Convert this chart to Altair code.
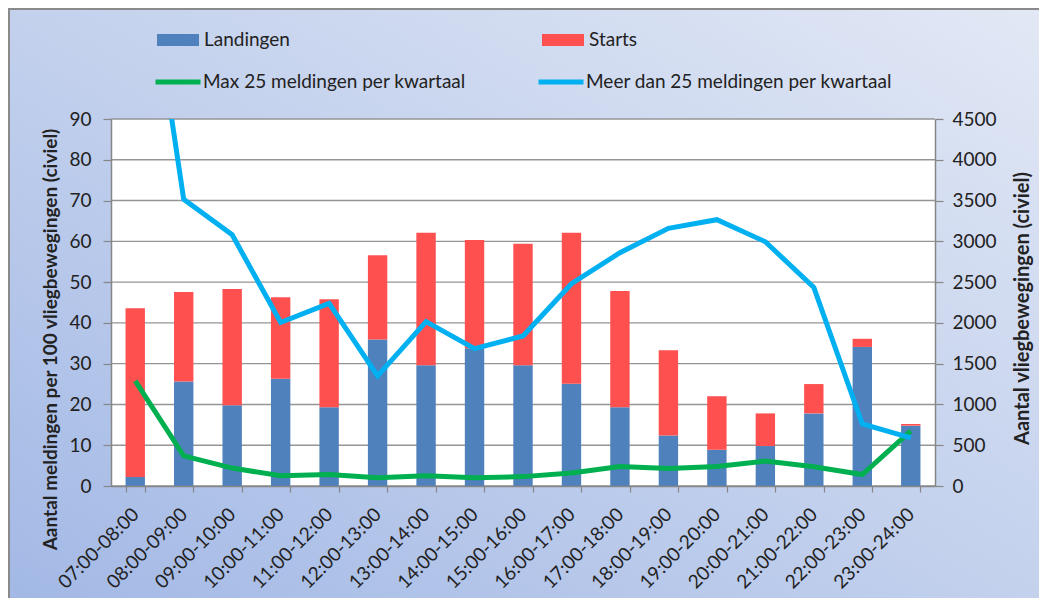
import altair as alt
import pandas as pd

# ---------------- data ----------------
categories = ["07:00-08:00", "08:00-09:00", "09:00-10:00", "10:00-11:00", "11:00-12:00",
              "12:00-13:00", "13:00-14:00", "14:00-15:00", "15:00-16:00", "16:00-17:00",
              "17:00-18:00", "18:00-19:00", "19:00-20:00", "20:00-21:00", "21:00-22:00",
              "22:00-23:00", "23:00-24:00"]
landingen = [110, 1280, 990, 1315, 965, 1795, 1480, 1690, 1480, 1255, 965, 620, 445, 490, 890, 1705, 740]
starts = [2070, 1100, 1425, 1000, 1325, 1035, 1625, 1325, 1490, 1850, 1425, 1045, 655, 400, 360, 100, 20]
max25 = [25.8, 7.4, 4.4, 2.5, 2.8, 2.0, 2.5, 2.0, 2.3, 3.2, 4.8, 4.3, 4.8, 6.1, 4.7, 2.8, 13.5]
meer25 = [150, 70.3, 61.6, 40.1, 44.8, 27.0, 40.3, 33.7, 36.8, 49.6, 57.2, 63.2, 65.3, 59.9, 48.7, 15.2, 11.8]

bar_series = ["Landingen", "Starts"]
line_series = ["Max 25 meldingen per kwartaal", "Meer dan 25 meldingen per kwartaal"]
left_ticks = [0, 10, 20, 30, 40, 50, 60, 70, 80, 90]
right_ticks = [0, 500, 1000, 1500, 2000, 2500, 3000, 3500, 4000, 4500]

bar_colors = ["#4f81bd", "#ff5050"]
line_colors = ["#00b050", "#00b0f0"]

# ---------------- tables ----------------
bars_df = pd.DataFrame({
    "cat": categories * 2,
    "series": [bar_series[0]] * len(categories) + [bar_series[1]] * len(categories),
    "ord": [0] * len(categories) + [1] * len(categories),
    "value": landingen + starts,
})
lines_df = pd.DataFrame({
    "cat": categories * 2,
    "series": [line_series[0]] * len(categories) + [line_series[1]] * len(categories),
    "value": max25 + meer25,
})
grid_df = pd.DataFrame({"g": right_ticks})
one_df = pd.DataFrame({"a": [0]})

W, H = 824, 367
PL, PT, PR, PB = 103, 111, 104, 112
FONT = "Lato"
TXT = "#222222"
AXC = "#868686"

xscale = alt.Scale(paddingInner=0.6, paddingOuter=0.3)
xaxis = alt.Axis(title=None, labelAngle=-45, labelAlign="right", labelBaseline="middle",
                 labelPadding=19, tickBand="extent", tickSize=6, labelOverlap=False,
                 grid=False, zindex=1, labelFontSize=19, labelColor=TXT, labelFont=FONT,
                 domainColor=AXC, tickColor=AXC, domainWidth=1.5, tickWidth=1.2)

right_axis = alt.Axis(orient="right", values=right_ticks, format="d",
                      title="Aantal vliegbewegingen (civiel)",
                      titleAngle=270, titleX=87, titleY=189, titleAlign="center",
                      titleBaseline="middle", titleFontWeight="bold", titleFontSize=20,
                      titleColor=TXT, titleFont=FONT, grid=False, tickSize=8, labelPadding=9,
                      labelFontSize=19, labelColor=TXT, labelFont=FONT, zindex=1,
                      domainColor=AXC, tickColor=AXC, domainWidth=1.5, tickWidth=1.2)

left_axis = alt.Axis(orient="left", values=left_ticks, format="d",
                     title="Aantal meldingen per 100 vliegbewegingen (civiel)",
                     titleAngle=270, titleX=-61, titleY=220, titleAlign="center",
                     titleBaseline="middle", titleFontWeight="bold", titleFontSize=19,
                     titleColor=TXT, titleFont=FONT, grid=False, tickSize=8, labelPadding=12,
                     labelFontSize=19, labelColor=TXT, labelFont=FONT, zindex=1,
                     domainColor=AXC, tickColor=AXC, domainWidth=1.5, tickWidth=1.2)

gradient = alt.Gradient(
    gradient="linear",
    stops=[alt.GradientStop(color="#a2b8e5", offset=0),
           alt.GradientStop(color="#c3d1ed", offset=0.5),
           alt.GradientStop(color="#e2e8f5", offset=1)],
    x1=0, y1=1, x2=1, y2=0,
)

bg = alt.Chart(one_df).mark_rect(color=gradient, stroke="#8a8a8a", strokeWidth=4).encode(
    x=alt.value(-PL), x2=alt.value(W + PR + 10), y=alt.value(-PT), y2=alt.value(H + PB + 10)
)
plot_bg = alt.Chart(one_df).mark_rect(color="white").encode(
    x=alt.value(0), x2=alt.value(W), y=alt.value(0), y2=alt.value(H)
)

rscale = alt.Scale(domain=[0, 4500], nice=False)
grid = alt.Chart(grid_df).mark_rule(color="#959595", strokeWidth=1.4).encode(
    y=alt.Y("g:Q", scale=rscale, axis=right_axis)
)

bar_sym = "M-1,-0.28H1V0.28H-1Z"
bars = alt.Chart(bars_df).mark_bar().encode(
    x=alt.X("cat:N", sort=categories, scale=xscale, axis=xaxis),
    y=alt.Y("value:Q", stack="zero", scale=rscale, axis=right_axis),
    color=alt.Color("series:N", scale=alt.Scale(domain=bar_series, range=bar_colors),
                    legend=alt.Legend(orient="none", legendX=46, legendY=-100, direction="horizontal",
                                      columns=2, columnPadding=252, symbolType=bar_sym,
                                      symbolSize=1764, symbolStrokeWidth=0, labelOffset=5,
                                      labelFontSize=19, labelFont=FONT, labelColor=TXT,
                                      title=None, padding=0, zindex=1, labelLimit=500)),
    order=alt.Order("ord:Q", sort="ascending"),
)

lines = alt.Chart(lines_df).mark_line(strokeWidth=5, clip=True).encode(
    x=alt.X("cat:N", sort=categories, scale=xscale, axis=xaxis),
    y=alt.Y("value:Q", scale=alt.Scale(domain=[0, 90], nice=False), axis=left_axis),
    stroke=alt.Stroke("series:N", scale=alt.Scale(domain=line_series, range=line_colors),
                      legend=alt.Legend(orient="none", legendX=42, legendY=-62, direction="horizontal",
                                        columns=2, columnPadding=62, symbolType="stroke",
                                        symbolSize=2025, symbolStrokeWidth=5, labelOffset=0,
                                        labelFontSize=19, labelFont=FONT, labelColor=TXT,
                                        title=None, padding=0, zindex=1, labelLimit=500)),
)

chart = alt.layer(bg, plot_bg, alt.layer(grid, bars), lines).resolve_scale(
    y="independent"
).properties(
    width=W, height=H,
    padding={"left": PL, "top": PT, "right": PR, "bottom": PB},
    autosize=alt.AutoSizeParams(type="none"),
    background="#c3d1ed",
).configure_view(stroke=None).configure(font=FONT)

chart.save("out.html", embed_options={"renderer": "svg", "actions": False})
